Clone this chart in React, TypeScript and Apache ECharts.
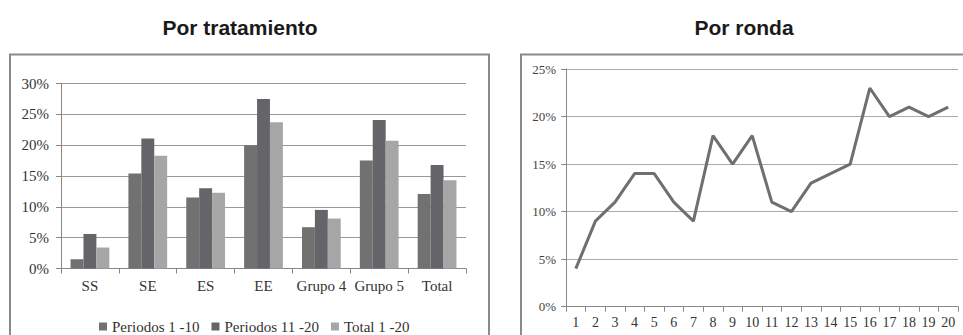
import React, { useEffect, useRef } from "react";
import * as echarts from "echarts";

const categories = ["SS", "SE", "ES", "EE", "Grupo 4", "Grupo 5", "Total"];
const periodos1a10 = [0.015, 0.154, 0.115, 0.2, 0.067, 0.175, 0.121];
const periodos11a20 = [0.056, 0.211, 0.13, 0.275, 0.095, 0.241, 0.168];
const total1a20 = [0.034, 0.183, 0.123, 0.237, 0.081, 0.207, 0.143];
const seriesNames = ["Periodos 1 -10", "Periodos 11 -20", "Total 1 -20"];

const rondas = ["1", "2", "3", "4", "5", "6", "7", "8", "9", "10", "11", "12", "13", "14", "15", "16", "17", "18", "19", "20"];
const rondaValues = [0.04, 0.09, 0.11, 0.14, 0.14, 0.11, 0.09, 0.18, 0.15, 0.18, 0.11, 0.1, 0.13, 0.14, 0.15, 0.23, 0.2, 0.21, 0.2, 0.21];

const pct = (v: number) => Math.round(v * 100) + "%";
const serif = "'Liberation Serif', 'DejaVu Serif', serif";

export default function App() {
  const ref = useRef<HTMLDivElement>(null);
  useEffect(() => {
    document.body.style.margin = "0";
    const chart = echarts.init(ref.current!, null, { renderer: "svg" });
    chart.setOption({
      animation: false,
      backgroundColor: "#ffffff",
      title: [
        {
          text: "Por tratamiento",
          left: 235,
          top: 12,
          textAlign: "center",
          textStyle: { fontFamily: "'Liberation Sans', Arial, sans-serif", fontWeight: "bold", fontSize: 21, color: "#1a1a1a" },
        },
        {
          text: "Por ronda",
          left: 739,
          top: 12,
          textAlign: "center",
          textStyle: { fontFamily: "'Liberation Sans', Arial, sans-serif", fontWeight: "bold", fontSize: 21, color: "#1a1a1a" },
        },
      ],
      graphic: [
        { type: "rect", shape: { x: 10, y: 54.5, width: 479, height: 320 }, style: { fill: "none", stroke: "#8a8a8a", lineWidth: 2 }, silent: true },
        { type: "rect", shape: { x: 521, y: 54.5, width: 480, height: 320 }, style: { fill: "none", stroke: "#8a8a8a", lineWidth: 2 }, silent: true },
      ],
      legend: {
        data: seriesNames,
        left: 94,
        top: 314,
        itemWidth: 8,
        itemHeight: 8,
        itemGap: 12,
        icon: "rect",
        textStyle: { fontFamily: serif, fontSize: 15, color: "#333" },
      },
      grid: [
        { left: 61, top: 83.5, width: 405, height: 185 },
        { left: 566, top: 69, width: 392, height: 237.7 },
      ],
      xAxis: [
        {
          type: "category",
          gridIndex: 0,
          data: categories,
          axisLine: { lineStyle: { color: "#888", width: 1 } },
          axisTick: { show: true, interval: 0, length: 5, lineStyle: { color: "#888" } },
          axisLabel: { interval: 0, fontFamily: serif, fontSize: 15, color: "#333", margin: 10 },
        },
        {
          type: "category",
          gridIndex: 1,
          data: rondas,
          boundaryGap: true,
          axisLine: { lineStyle: { color: "#888", width: 1 } },
          axisTick: { show: true, interval: 0, length: 5, lineStyle: { color: "#888" } },
          axisLabel: { interval: 0, fontFamily: serif, fontSize: 14, color: "#333", margin: 9 },
        },
      ],
      yAxis: [
        {
          type: "value",
          gridIndex: 0,
          min: 0,
          max: 0.3,
          interval: 0.05,
          axisLine: { show: true, lineStyle: { color: "#888" } },
          axisTick: { show: true, length: 5, lineStyle: { color: "#888" } },
          splitLine: { lineStyle: { color: "#999", width: 1 } },
          axisLabel: { formatter: pct, fontFamily: serif, fontSize: 15, color: "#333", margin: 12 },
        },
        {
          type: "value",
          gridIndex: 1,
          min: 0,
          max: 0.25,
          interval: 0.05,
          axisLine: { show: true, lineStyle: { color: "#888" } },
          axisTick: { show: true, length: 5, lineStyle: { color: "#888" } },
          splitLine: { lineStyle: { color: "#aaa", width: 1 } },
          axisLabel: { formatter: pct, fontFamily: serif, fontSize: 13, color: "#444", margin: 10 },
        },
      ],
      series: [
        { name: seriesNames[0], type: "bar", xAxisIndex: 0, yAxisIndex: 0, data: periodos1a10, itemStyle: { color: "#717171" }, barGap: "0%", barCategoryGap: "33%" },
        { name: seriesNames[1], type: "bar", xAxisIndex: 0, yAxisIndex: 0, data: periodos11a20, itemStyle: { color: "#656569" }, barGap: "0%", barCategoryGap: "33%" },
        { name: seriesNames[2], type: "bar", xAxisIndex: 0, yAxisIndex: 0, data: total1a20, itemStyle: { color: "#a6a6a6" }, barGap: "0%", barCategoryGap: "33%" },
        {
          name: "Por ronda",
          type: "line",
          xAxisIndex: 1,
          yAxisIndex: 1,
          data: rondaValues,
          symbol: "none",
          lineStyle: { color: "#6f6f6f", width: 3 },
        },
      ],
    });
    return () => chart.dispose();
  }, []);
  return <div ref={ref} style={{ width: 963, height: 335 }} />;
}
